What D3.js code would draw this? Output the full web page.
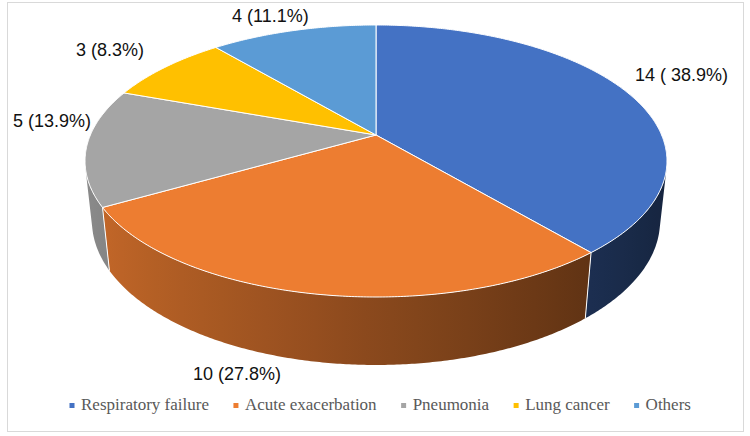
<!DOCTYPE html>
<html>
<head>
<meta charset="utf-8">
<script src="https://cdn.jsdelivr.net/npm/d3@7"></script>
<style>
    body { margin: 0; background: #fff; }
    svg { display: block; }
</style>
</head>
<body>
<svg id="chart" width="750" height="436"></svg>
<script>
// Data
const categories = ['Respiratory failure', 'Acute exacerbation', 'Pneumonia', 'Lung cancer', 'Others'];
const counts = [14, 10, 5, 3, 4];
const valueLabels = ['14 ( 38.9%)', '10 (27.8%)', '5 (13.9%)', '3 (8.3%)', '4 (11.1%)'];
const colors = ['#4472C4', '#ED7D31', '#A5A5A5', '#FFC000', '#5B9BD5'];

// where the value labels sit (left edge, baseline)
const labelSpots = [[635, 81], [193, 380], [13, 127], [76, 56], [232, 22]];

const svg = d3.select('#chart');
let defs = svg.append('defs');

// Outer frame
svg.append('rect')
    .attr('x', 7.5).attr('y', 2.5)
    .attr('width', 736).attr('height', 429)
    .style('fill', '#fff')
    .style('stroke', '#d9d9d9')
    .style('stroke-width', 1);

// Simple perspective camera looking down on a unit disc
let cam = {cx: 376, cy: 135, f: 1327.5, D: 4.648, tilt: Math.asin(0.4588)};
let thick = 0.238;
let sa = Math.sin(cam.tilt), ca = Math.cos(cam.tilt);

function project(theta, y) {
    let x = Math.sin(theta), z = -Math.cos(theta);
    let depth = cam.D - y * sa - z * ca;
    let up = y * ca - z * sa;
    return [cam.cx + cam.f * x / depth, cam.cy - cam.f * up / depth];
}

// Shade for the side wall, lighter on the left
function shade(base, theta) {
    let k = 0.58 - 0.27 * Math.sin(theta);
    let c = d3.rgb(base);
    return d3.rgb(c.r * k, c.g * k, c.b * k).formatHex();
}

let arcs = d3.pie().sort(null).value(d => d)(counts);

// range of the wall that faces the camera
let visLo = Math.acos(-1 / (cam.D * ca));
let visHi = 2 * Math.PI - visLo;

let line = d3.line();
let step = Math.PI / 360;

function arcPoints(a0, a1, y) {
    let n = Math.max(2, Math.ceil((a1 - a0) / step));
    return d3.range(n + 1).map(i => project(a0 + (a1 - a0) * i / n, y));
}

// Side walls, one path each with a left-to-right gradient
let sides = svg.append('g').attr('class', 'sides');
arcs.forEach((a, i) => {
    let lo = Math.max(a.startAngle, visLo);
    let hi = Math.min(a.endAngle, visHi);
    if (lo >= hi) return;

    let top = arcPoints(lo, hi, 0);
    let bottom = arcPoints(lo, hi, -thick).reverse();
    let xs = top.concat(bottom).map(p => p[0]);
    let x0 = d3.min(xs), x1 = d3.max(xs);

    let grad = defs.append('linearGradient')
        .attr('id', 'side' + i)
        .attr('gradientUnits', 'userSpaceOnUse')
        .attr('x1', x0).attr('x2', x1)
        .attr('y1', 0).attr('y2', 0);
    let n = 12;
    let stops = d3.range(n + 1).map(j => {
        let t = lo + (hi - lo) * j / n;
        return {off: (x1 - x0) > 0 ? (project(t, 0)[0] - x0) / (x1 - x0) : 0, col: shade(colors[i], t)};
    }).sort((p, q) => p.off - q.off);
    grad.selectAll('stop')
        .data(stops)
        .enter().append('stop')
        .attr('offset', d => Math.max(0, Math.min(1, d.off)))
        .attr('stop-color', d => d.col);

    sides.append('path')
        .attr('d', line(top.concat(bottom)) + 'Z')
        .style('fill', 'url(#side' + i + ')');
});

// Top faces
let apex = [cam.cx, cam.cy];
svg.append('g').attr('class', 'tops')
    .selectAll('path')
    .data(arcs)
    .enter().append('path')
    .attr('d', d => line([apex].concat(arcPoints(d.startAngle, d.endAngle, 0))) + 'Z')
    .style('fill', (d, i) => colors[i])
    .style('stroke', '#fff')
    .style('stroke-width', 1)
    .style('stroke-linejoin', 'round');

// white seams down the side between slices
svg.append('g').attr('class', 'seams')
    .selectAll('line')
    .data(arcs.map(a => a.endAngle).filter(t => t > visLo && t < visHi))
    .enter().append('line')
    .attr('x1', t => project(t, 0)[0])
    .attr('y1', t => project(t, 0)[1])
    .attr('x2', t => project(t, -thick)[0])
    .attr('y2', t => project(t, -thick)[1])
    .style('stroke', '#fff')
    .style('stroke-width', 1);

// Value labels
svg.append('g').attr('class', 'labels')
    .selectAll('text')
    .data(valueLabels)
    .enter().append('text')
    .attr('x', (d, i) => labelSpots[i][0])
    .attr('y', (d, i) => labelSpots[i][1])
    .attr('font-family', "'Liberation Sans', Arial, sans-serif")
    .attr('font-size', 18)
    .attr('fill', '#111')
    .text(d => d);

// Legend
let legend = svg.append('g').attr('class', 'legend');
let lx = 72;
categories.forEach((c, i) => {
    legend.append('rect')
        .attr('x', lx - 2.5).attr('y', 403)
        .attr('width', 5).attr('height', 5)
        .style('fill', colors[i]);
    let txt = legend.append('text')
        .attr('x', lx + 9)
        .attr('y', 410)
        .attr('font-family', "'Liberation Serif', 'Times New Roman', Tinos, 'DejaVu Serif', 'Noto Serif', serif")
        .attr('font-size', 17)
        .attr('fill', '#595959')
        .text(c);
    lx = lx + 9 + txt.node().getComputedTextLength() + 27;
});
</script>
</body>
</html>
